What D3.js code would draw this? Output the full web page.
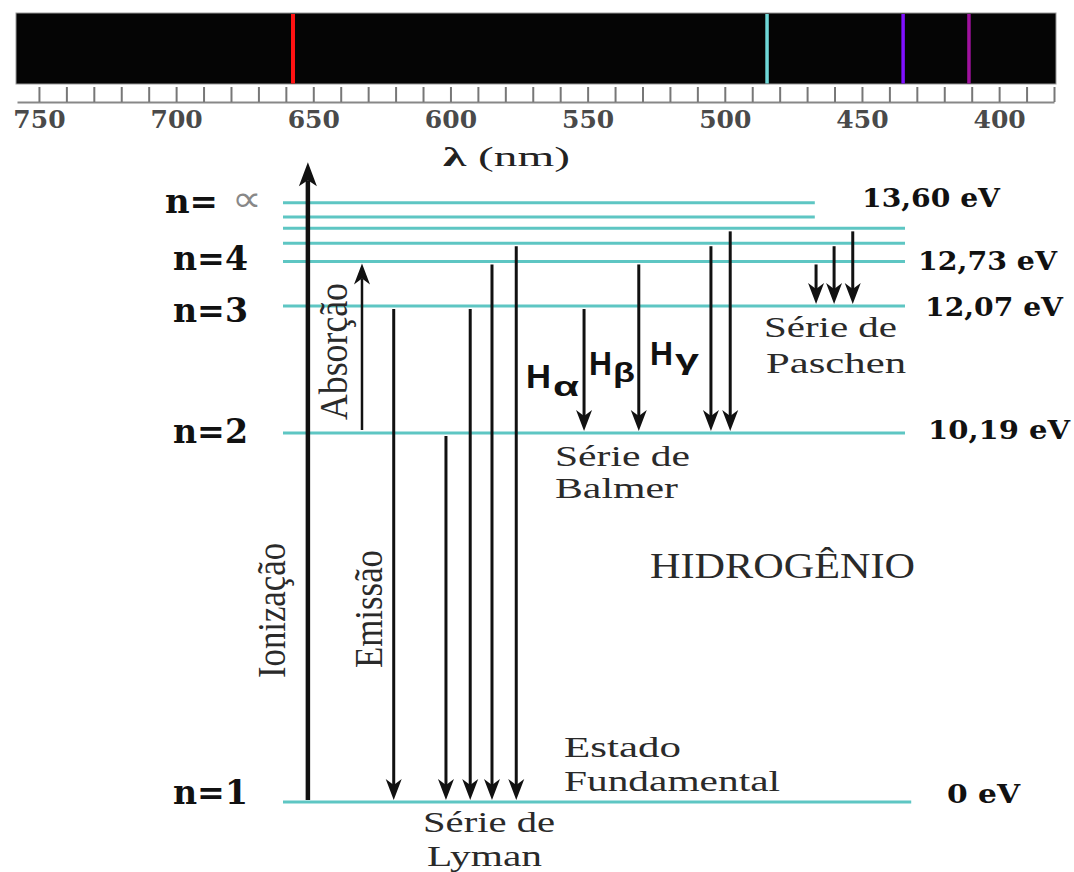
<!DOCTYPE html>
<html><head><meta charset="utf-8">
<script src="https://cdn.jsdelivr.net/npm/d3@7"></script>
<style>body{margin:0;background:#fff} svg{display:block}</style>
</head><body>
<svg id="c" width="1074" height="872"></svg>
<script>
// ---------------- data ----------------
const wavelengthTicks = [750, 700, 650, 600, 550, 500, 450, 400];
const spectralLines = [657.4, 484.6, 435.0, 411.0];           // nm
const spectralColors = ["#ff1212", "#6fd8d8", "#8010ff", "#a0129e"];
const levelEnergies = [0, 10.19, 12.07, 12.73, 13.00, 13.22, 13.39, 13.60]; // eV
const levelEndCols = [101, 100, 100, 100, 100, 100, 85.5, 85.5];
const levelLabelNames = ["n=1", "n=2", "n=3", "n=4"];
const levelLabelEnergies = [0, 10.19, 12.07, 12.73];
const energyLabels = ["0 eV", "10,19 eV", "12,07 eV", "12,73 eV", "13,60 eV"];
const energyLabelEnergies = [0, 10.19, 12.07, 12.73, 13.60];
// transitions (from energy -> to energy, column in diagram units 0..100)
const transFrom = [0, 10.19, 12.07, 10.19, 12.07, 12.73, 13.00, 12.07, 12.73, 13.00, 13.22, 12.73, 13.00, 13.22];
const transTo   = [14.23, 12.73, 0, 0, 0, 0, 0, 10.19, 10.19, 10.19, 10.19, 12.07, 12.07, 12.07];
const transCol  = [4.0, 12.7, 17.8, 26.2, 30.1, 33.6, 37.5, 48.4, 57.2, 68.8, 71.9, 85.7, 88.6, 91.6];

// ---------------- layout ----------------
const svg = d3.select("#c");
const SERIF = "'Liberation Serif', 'Times New Roman', serif";
const BSERIF = "'DejaVu Serif', serif";
const SANS = "'Liberation Sans', Arial, sans-serif";

// spectrum
const xL = d3.scaleLinear().domain([758, 380]).range([17, 1054]);
svg.append("rect")
  .attr("x", xL(758) - 1).attr("y", 13)
  .attr("width", xL(380) - xL(758) + 3).attr("height", 71)
  .attr("fill", "#050505").attr("stroke", "#999").attr("stroke-width", 1);
svg.append("g").selectAll("line").data(spectralLines).join("line")
  .attr("x1", d => xL(d)).attr("x2", d => xL(d))
  .attr("y1", 14).attr("y2", 83.5)
  .attr("stroke", (d, i) => spectralColors[i])
  .attr("stroke-width", (d, i) => i === 0 ? 4 : 3.5);

const axis = d3.axisBottom(xL)
  .tickValues(d3.range(380, 751, 10))
  .tickSizeInner(-15).tickSizeOuter(0).tickPadding(8)
  .tickFormat(d => wavelengthTicks.includes(d) ? d : "");
const gAx = svg.append("g").attr("transform", "translate(0,102)").call(axis);
gAx.select(".domain").attr("stroke", "#888").attr("stroke-width", 2);
gAx.selectAll(".tick line").attr("stroke", "#777").attr("stroke-width", 2);
gAx.selectAll(".tick text")
  .attr("font-family", BSERIF).attr("font-weight", "bold")
  .attr("font-size", 25).attr("fill", "#4a4a4a");

function txt(x, y, s, o = {}) {
  const t = svg.append("text")
    .attr("font-family", o.family || SERIF)
    .attr("font-size", o.size || 30)
    .attr("font-weight", o.weight || "normal")
    .attr("fill", o.fill || "#2a2a2a")
    .attr("text-anchor", o.anchor || "start")
    .text(s);
  if (o.rotate) {
    t.attr("transform", `translate(${x},${y}) scale(${o.sx || 1},1) rotate(-90)`);
  } else {
    t.attr("x", x).attr("y", y);
  }
  if (o.len) t.attr("textLength", o.len).attr("lengthAdjust", "spacingAndGlyphs");
  return t;
}

// axis title
const lt = svg.append("text").attr("x", 443).attr("y", 166)
  .attr("font-family", SERIF).attr("font-size", 28).attr("fill", "#222")
  .attr("textLength", 127).attr("lengthAdjust", "spacingAndGlyphs");
lt.append("tspan").attr("font-weight", "bold").text("λ");
lt.append("tspan").text(" (nm)");

// energy diagram scales
const yE = d3.scaleLinear().domain([0, 10.19, 13.60]).range([802, 433, 202.7]);
const xD = d3.scaleLinear().domain([0, 100]).range([283, 905]);

svg.append("g").selectAll("line").data(levelEnergies).join("line")
  .attr("x1", xD(0)).attr("x2", (d, i) => xD(levelEndCols[i]))
  .attr("y1", d => yE(d)).attr("y2", d => yE(d))
  .attr("stroke", "#5ec6c3").attr("stroke-width", 3);

// transitions
const gA = svg.append("g");
transFrom.forEach((f, i) => {
  const x = xD(transCol[i]);
  const y1 = yE(f), y2 = yE(transTo[i]);
  const dir = Math.sign(y2 - y1);
  const ion = i === 0;
  const L = ion ? 24 : 21, hw = ion ? 9 : 8, notch = 6;
  const tip = y2 - dir * 2;
  gA.append("line")
    .attr("x1", x).attr("x2", x)
    .attr("y1", y1 + dir * (ion ? 2 : 3))
    .attr("y2", tip - dir * (L - notch))
    .attr("stroke", "#111").attr("stroke-width", ion ? 4.5 : (i === 1 ? 2.5 : 3));
  gA.append("path")
    .attr("d", `M${x},${tip} L${x - hw},${tip - dir * L} L${x},${tip - dir * (L - notch)} L${x + hw},${tip - dir * L} Z`)
    .attr("fill", "#111");
});

// level names (left)
const lvlDy = [2, 10, 16, 9];
levelLabelNames.forEach((s, i) => {
  txt(248, yE(levelLabelEnergies[i]) + lvlDy[i], s, {family: BSERIF, weight: "bold", size: 33, anchor: "end", fill: "#111", len: 75});
});
txt(165, yE(13.60) + 10, "n=", {family: BSERIF, weight: "bold", size: 33, fill: "#111", len: 53});
txt(232, yE(13.60) + 8, "∝", {family: SERIF, size: 36, fill: "#888", len: 30});

// energy labels (right)
const eLabX = [947, 928, 925, 918, 862];
const eLabLen = [73, 142, 138, 139, 138];
const eLabDy = [1, 6, 10, 9, 4];
energyLabels.forEach((s, i) => {
  txt(eLabX[i], yE(energyLabelEnergies[i]) + eLabDy[i], s, {family: BSERIF, weight: "bold", size: 26, fill: "#111", len: eLabLen[i]});
});

// rotated labels
txt(347, 420, "Absorção", {rotate: true, sx: 1.2, size: 33, len: 137});
txt(382, 668, "Emissão", {rotate: true, sx: 1.2, size: 33, len: 118});
txt(285, 678, "Ionização", {rotate: true, sx: 1.2, size: 33, len: 135});

// series labels
txt(423, 832, "Série de", {size: 30, len: 132});
txt(427, 866, "Lyman", {size: 30, len: 115});
txt(555, 466, "Série de", {size: 30, len: 135});
txt(555, 498, "Balmer", {size: 30, len: 123});
txt(764, 337, "Série de", {size: 30, len: 133});
txt(766, 373, "Paschen", {size: 30, len: 140});
txt(650, 578, "HIDROGÊNIO", {size: 35, len: 265});
txt(564, 757, "Estado", {size: 29, len: 117});
txt(564, 791, "Fundamental", {size: 29, len: 216});

// H alpha/beta/gamma
const HB = {family: SANS, weight: "bold", size: 34, fill: "#111"};
const GB = {family: SANS, weight: "bold", size: 27, fill: "#111"};
txt(526, 388, "H", Object.assign({len: 25}, HB));
txt(553, 396, "α", Object.assign({len: 26}, GB));
txt(589, 375, "H", Object.assign({len: 23}, HB));
txt(613, 382, "β", Object.assign({len: 22}, GB));
txt(650, 365, "H", Object.assign({len: 23}, HB));
txt(675, 369, "γ", Object.assign({len: 24}, GB));
</script>
</body></html>
